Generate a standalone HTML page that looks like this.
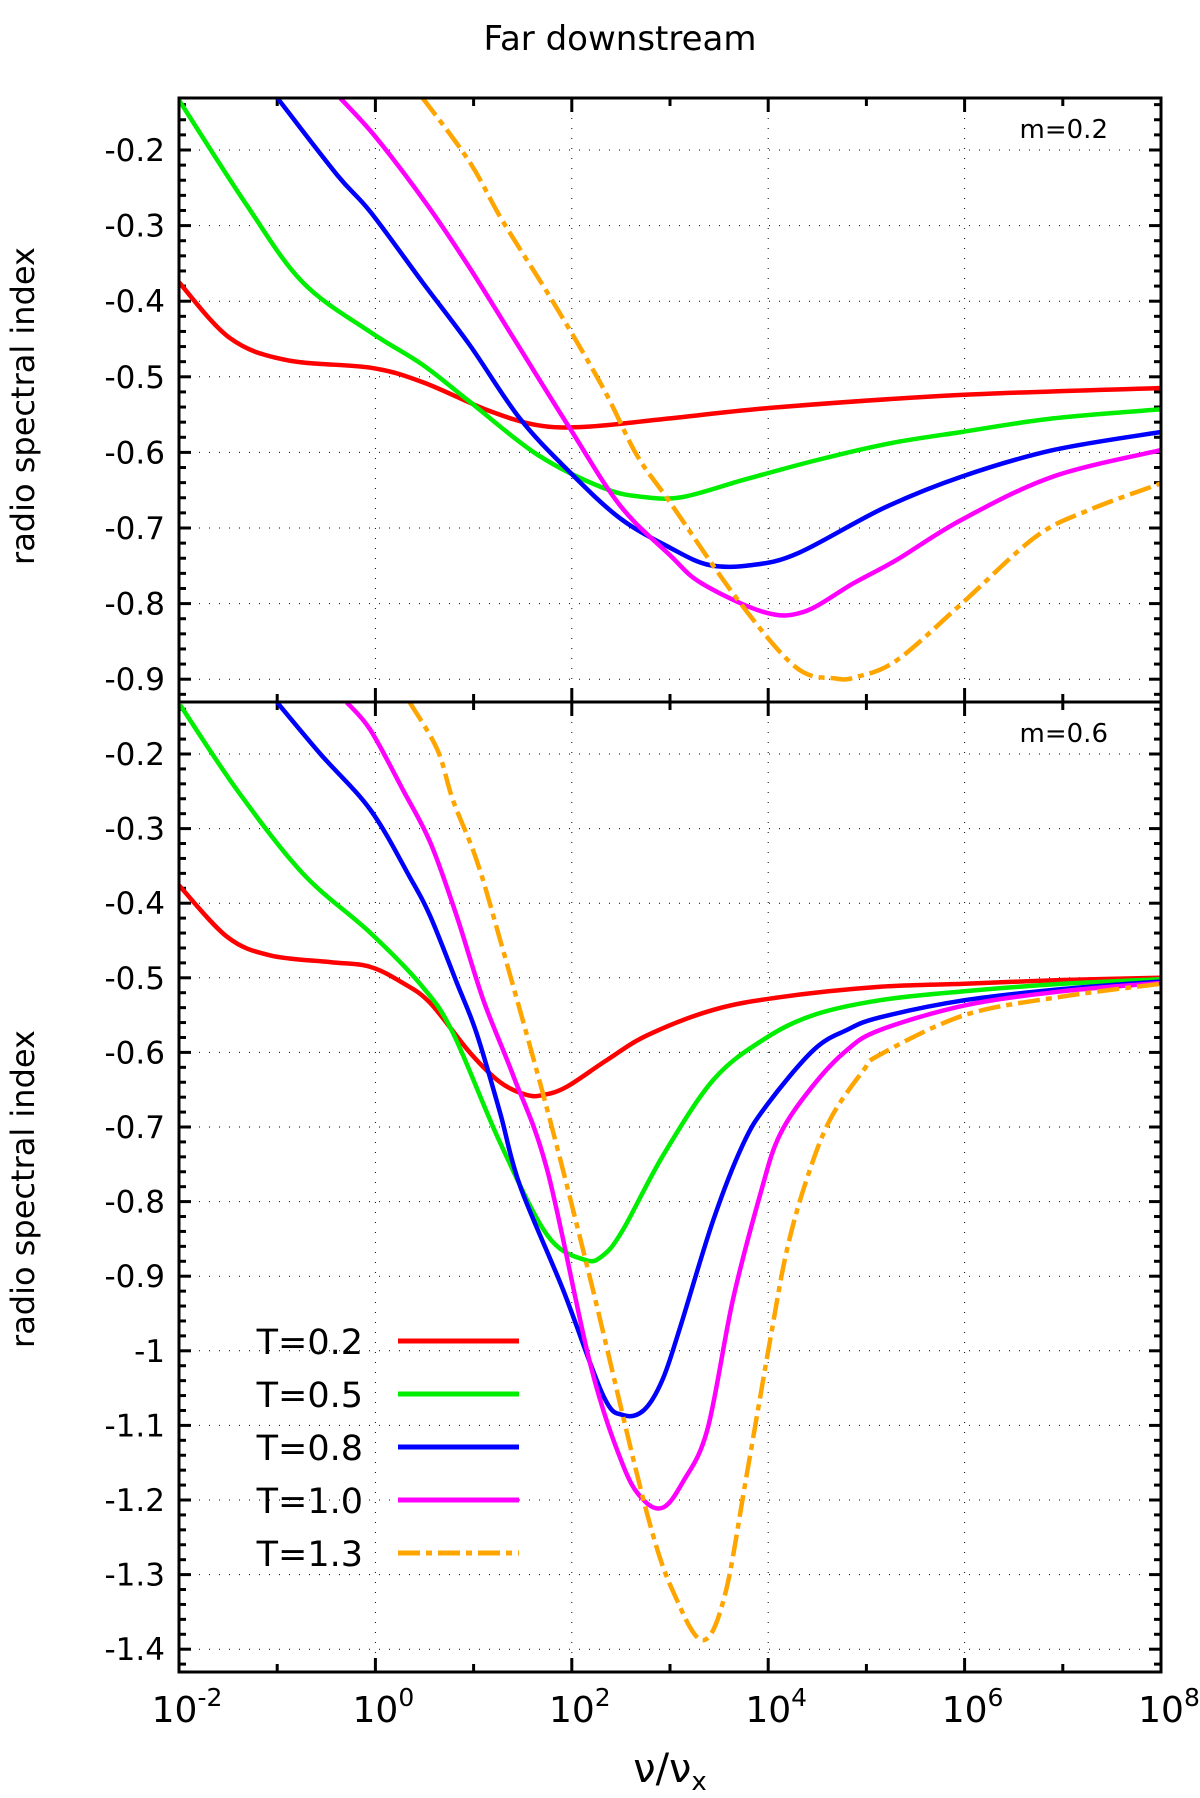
<!DOCTYPE html>
<html><head><meta charset="utf-8"><style>
body{margin:0;background:#fff}
svg text{font-family:"DejaVu Sans","Liberation Sans",sans-serif;fill:#000}
</style></head><body>
<svg id="chart" width="1200" height="1793" viewBox="0 0 1200 1793" xmlns="http://www.w3.org/2000/svg">
<text x="620" y="50" font-size="34" text-anchor="middle">Far downstream</text>
<g id="top"></g>
<g id="bot"></g>
<text transform="translate(34,406) rotate(-90)" font-size="32" text-anchor="middle" font-family="Liberation Sans, sans-serif">radio spectral index</text>
<text transform="translate(34,1189) rotate(-90)" font-size="32" text-anchor="middle" font-family="Liberation Sans, sans-serif">radio spectral index</text>
<text x="670" y="1782" font-size="40" text-anchor="middle">ν/ν<tspan font-size="26" dy="8">x</tspan></text>
</svg>
<script>
const seriesNames=["T=0.2","T=0.5","T=0.8","T=1.0","T=1.3"];
const seriesColors=["#ff0000","#00ee00","#0000ff","#ff00ff","#ffa500"];
// top panel m=0.2, [log10(nu/nux), index]
const topT02=[[-2,-0.375],[-1.48,-0.449],[-0.9,-0.478],[-0.05,-0.488],[0.48,-0.507],[1.14,-0.544],[1.65,-0.564],[2.15,-0.566],[3.0,-0.555],[4.13,-0.54],[5.97,-0.524],[7.97,-0.515],[8,-0.515]];
const topT05=[[-2,-0.134],[-1.31,-0.273],[-0.74,-0.375],[-0.05,-0.441],[0.48,-0.484],[0.96,-0.533],[1.65,-0.603],[2.32,-0.647],[2.73,-0.659],[3.13,-0.659],[3.76,-0.636],[4.5,-0.61],[5.24,-0.588],[5.97,-0.573],[6.9,-0.555],[8,-0.543]];
const topT08=[[-1.0,-0.131],[-0.39,-0.233],[-0.05,-0.282],[0.48,-0.375],[0.96,-0.458],[1.47,-0.555],[1.98,-0.626],[2.49,-0.687],[3.0,-0.726],[3.4,-0.749],[3.84,-0.749],[4.31,-0.733],[5.17,-0.674],[5.97,-0.632],[6.9,-0.597],[8,-0.573]];
const topT10=[[-0.36,-0.131],[0.01,-0.184],[0.53,-0.273],[0.96,-0.356],[1.47,-0.462],[1.98,-0.568],[2.49,-0.67],[3.0,-0.736],[3.32,-0.773],[3.95,-0.811],[4.36,-0.811],[4.87,-0.773],[5.31,-0.742],[5.97,-0.689],[6.9,-0.632],[8,-0.597]];
const topT13=[[0.48,-0.131],[0.96,-0.216],[1.3,-0.295],[1.81,-0.401],[2.32,-0.515],[2.66,-0.603],[3.0,-0.666],[3.69,-0.795],[4.28,-0.884],[4.68,-0.899],[4.9,-0.897],[5.31,-0.875],[5.97,-0.8],[6.72,-0.712],[7.27,-0.676],[8,-0.641]];
// bottom panel m=0.6
const botT02=[[-2,-0.376],[-1.51,-0.445],[-1.07,-0.47],[-0.46,-0.479],[-0.06,-0.485],[0.28,-0.507],[0.56,-0.534],[0.96,-0.6],[1.27,-0.64],[1.54,-0.657],[1.71,-0.657],[1.95,-0.646],[2.36,-0.61],[2.77,-0.577],[3.44,-0.543],[4.12,-0.526],[5.14,-0.512],[6,-0.508],[7,-0.503],[8,-0.5]];
const botT05=[[-1.99,-0.134],[-1.41,-0.248],[-0.74,-0.36],[-0.05,-0.44],[0.48,-0.512],[0.79,-0.574],[1.27,-0.721],[1.75,-0.845],[2.13,-0.878],[2.32,-0.872],[2.52,-0.838],[2.93,-0.738],[3.44,-0.637],[3.95,-0.583],[4.46,-0.55],[5.14,-0.53],[6,-0.518],[7,-0.508],[8,-0.502]];
const botT08=[[-1.0,-0.131],[-0.56,-0.2],[-0.05,-0.275],[0.35,-0.365],[0.56,-0.418],[0.83,-0.507],[1.03,-0.574],[1.27,-0.681],[1.47,-0.778],[1.91,-0.918],[2.32,-1.06],[2.52,-1.086],[2.73,-1.08],[2.92,-1.04],[3.1,-0.97],[3.44,-0.825],[3.74,-0.724],[3.99,-0.67],[4.46,-0.597],[4.8,-0.57],[5.14,-0.553],[6,-0.53],[7,-0.515],[8,-0.505]];
const botT10=[[-0.29,-0.131],[-0.05,-0.168],[0.28,-0.248],[0.56,-0.319],[0.83,-0.418],[1.1,-0.53],[1.4,-0.63],[1.75,-0.758],[2.19,-1.019],[2.52,-1.153],[2.73,-1.2],[2.93,-1.21],[3.13,-1.176],[3.38,-1.106],[3.64,-0.932],[3.92,-0.79],[4.12,-0.71],[4.46,-0.644],[4.8,-0.597],[5.14,-0.57],[6,-0.537],[7,-0.518],[8,-0.507]];
const botT13=[[0.35,-0.131],[0.63,-0.194],[0.79,-0.262],[1.03,-0.342],[1.27,-0.449],[1.75,-0.677],[2.19,-0.905],[2.77,-1.22],[3.07,-1.334],[3.34,-1.388],[3.56,-1.327],[3.78,-1.167],[4.02,-0.985],[4.19,-0.865],[4.39,-0.771],[4.63,-0.69],[4.97,-0.624],[5.14,-0.603],[6,-0.55],[7,-0.525],[8,-0.508]];
const xTickExps=[-2,0,2,4,6,8];
const topYTicks=[-0.2,-0.3,-0.4,-0.5,-0.6,-0.7,-0.8,-0.9];
const botYTicks=[-0.2,-0.3,-0.4,-0.5,-0.6,-0.7,-0.8,-0.9,-1,-1.1,-1.2,-1.3,-1.4];

const NS="http://www.w3.org/2000/svg";
const L=179,R=1161;
const xs=v=>L+(v+2)*(R-L)/10;
function mk(tag,parent,attrs){const e=document.createElementNS(NS,tag);for(const k in attrs)e.setAttribute(k,attrs[k]);parent.appendChild(e);return e;}
function smooth(pts){
  let d='M'+pts[0][0].toFixed(1)+','+pts[0][1].toFixed(1);
  for(let i=0;i<pts.length-1;i++){
    const p0=pts[Math.max(0,i-1)],p1=pts[i],p2=pts[i+1],p3=pts[Math.min(pts.length-1,i+2)];
    const c1=[p1[0]+(p2[0]-p0[0])/6,p1[1]+(p2[1]-p0[1])/6];
    const c2=[p2[0]-(p3[0]-p1[0])/6,p2[1]-(p3[1]-p1[1])/6];
    d+='C'+c1[0].toFixed(1)+','+c1[1].toFixed(1)+' '+c2[0].toFixed(1)+','+c2[1].toFixed(1)+' '+p2[0].toFixed(1)+','+p2[1].toFixed(1);
  }
  return d;
}

function panel(g,id,top,bot,yAt02,pxPerUnit,yTicks,data,label,showX){
  const ys=v=>yAt02+(-0.2-v)*pxPerUnit;
  const yMin=-0.2-(bot-yAt02)/pxPerUnit;
  const cp=mk('clipPath',g,{id:'clip'+id});
  mk('rect',cp,{x:L,y:top,width:R-L,height:bot-top});
  yTicks.forEach(t=>{const y=ys(t);
    const gl=mk('line',g,{x1:L,x2:R,y1:y,y2:y,stroke:'#000','stroke-width':1,'stroke-dasharray':'1,9'});
    
    
    const tl=mk('text',g,{x:L-14,y:y+11,'font-size':31,'text-anchor':'end'});
    tl.textContent=String(t);
    
    
  });
  xTickExps.slice(1,-1).forEach(e=>{const x=xs(e);
    const gl=mk('line',g,{x1:x,x2:x,y1:top,y2:bot,stroke:'#000','stroke-width':1,'stroke-dasharray':'1,9'});
    
    
  });
  for(let v=-0.1;v>=yMin-1e-9;v-=0.02){const y=ys(v);if(y<top||y>bot)continue;
    const major=Math.abs(Math.round(v*10)-v*10)<1e-6;const len=major?12:7;
    mk('line',g,{x1:L,x2:L+len,y1:y,y2:y,stroke:'#000','stroke-width':3});
    mk('line',g,{x1:R,x2:R-len,y1:y,y2:y,stroke:'#000','stroke-width':3});}
  for(let e=-2;e<=8;e++){const x=xs(e);const len=e%2===0?14:8;
    mk('line',g,{x1:x,x2:x,y1:top,y2:top+len,stroke:'#000','stroke-width':3});
    mk('line',g,{x1:x,x2:x,y1:bot,y2:bot-len,stroke:'#000','stroke-width':3});}
  const cg=mk('g',g,{'clip-path':'url(#clip'+id+')'});
  data.forEach((d,i)=>{
    const p=mk('path',cg,{d:smooth(d.map(q=>[xs(q[0]),ys(q[1])])),fill:'none',stroke:seriesColors[i],'stroke-width':4.5,'stroke-linejoin':'round'});
    if(i===4)p.setAttribute('stroke-dasharray','22,6,6,6');
    
    
  });
  const fr=mk('rect',g,{x:L,y:top,width:R-L,height:bot-top,fill:'none',stroke:'#000','stroke-width':3});
  
  
  const lb=mk('text',g,{x:1108,y:top+40,'font-size':26,'text-anchor':'end'});
  lb.textContent=label;
  
  
  if(showX){xTickExps.forEach(e=>{const t=mk('text',g,{x:xs(e)+8,y:bot+50,'font-size':36,'text-anchor':'middle'});
    t.innerHTML='10<tspan font-size="25" dy="-16">'+e+'</tspan>';
    
    });}
}
panel(document.getElementById('top'),'top',98,702,150,756,topYTicks,[topT02,topT05,topT08,topT10,topT13],'m=0.2',false);
panel(document.getElementById('bot'),'bottom',702,1672,754,746,botYTicks,[botT02,botT05,botT08,botT10,botT13],'m=0.6',true);
const svg=document.getElementById('chart');
const lg=mk('g',svg,{});


const legY=[1341,1394,1447,1500,1553];
seriesNames.forEach((n,i)=>{
  const t=mk('text',lg,{x:363,y:legY[i]+13,'font-size':35,'text-anchor':'end'});
  t.textContent=n;
  
  
  const l=mk('line',lg,{x1:398,x2:519,y1:legY[i],y2:legY[i],stroke:seriesColors[i],'stroke-width':5});
  if(i===4)l.setAttribute('stroke-dasharray','22,6,6,6');
  
  
});
</script>
</body></html>
